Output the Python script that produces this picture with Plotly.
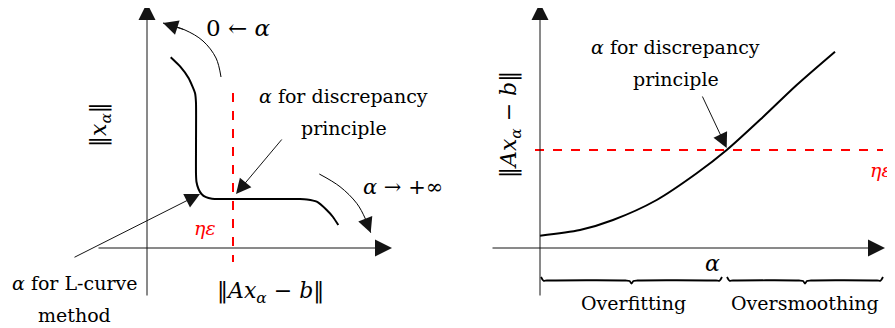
"""Schematic: L-curve vs discrepancy principle for choosing alpha."""

import plotly.graph_objects as go

# left panel: L-curve (x = ||Ax_a - b||, y = ||x_a||), schematic units
lcurve_x = [2.37, 3.33, 4.17, 4.8, 4.9, 4.9, 4.9, 4.95, 5.15, 5.45, 5.9, 6.5, 7.3,
            10.0, 15.3, 16.0, 16.97, 17.97, 18.6, 19.13]
lcurve_y = [19.07, 18.13, 16.97, 15.5, 14.5, 10.0, 7.4, 6.6, 5.9, 5.4, 5.08, 4.93, 4.9,
            4.9, 4.9, 4.85, 4.63, 3.8, 3.1, 2.3]

# arrows showing direction of alpha along the L-curve
to_zero_x = [7.4, 6.9, 5.6, 3.8, 1.6]
to_zero_y = [17.1, 19.0, 20.7, 21.8, 22.5]
to_inf_x = [17.23, 19.3, 20.97, 21.8, 22.37]
to_inf_y = [7.4, 6.13, 4.47, 3.0, 1.53]

# right panel: residual norm vs alpha
resid_alpha = [0.0, 4.0, 7.3, 11.67, 15.67, 18.67, 22.33, 25.67, 29.5]
resid_norm = [1.23, 1.8, 2.8, 4.8, 7.47, 9.8, 13.13, 16.3, 19.63]

eta_eps_left = 8.6      # ||Ax - b|| = eta*eps (left panel)
eta_eps_right = 9.8     # residual level eta*eps (right panel)
alpha_dp = 18.67        # alpha picked by discrepancy principle
alpha_max = 34.3

SERIF = "DejaVu Serif"
RED = "rgb(255, 0, 0)"

fig = go.Figure()

# ---- left panel ----
fig.add_trace(go.Scatter(x=lcurve_x, y=lcurve_y, mode="lines",
                         line=dict(color="black", width=2, shape="spline", smoothing=0.5),
                         xaxis="x", yaxis="y"))
fig.add_trace(go.Scatter(x=[eta_eps_left, eta_eps_left], y=[15.5, -1.4], mode="lines",
                         line=dict(color=RED, width=2, dash="dash"), xaxis="x", yaxis="y"))
for cx, cy in [(to_zero_x, to_zero_y), (to_inf_x, to_inf_y)]:
    fig.add_trace(go.Scatter(x=cx, y=cy, mode="lines",
                             line=dict(color="black", width=1, shape="spline"),
                             xaxis="x", yaxis="y"))

# ---- right panel ----
fig.add_trace(go.Scatter(x=resid_alpha, y=resid_norm, mode="lines",
                         line=dict(color="black", width=2, shape="spline", smoothing=0.8),
                         xaxis="x2", yaxis="y2"))
fig.add_trace(go.Scatter(x=[-0.5, alpha_max], y=[eta_eps_right, eta_eps_right], mode="lines",
                         line=dict(color=RED, width=2, dash="dash"), xaxis="x2", yaxis="y2"))


# curly braces under the alpha axis
def brace(x0, x1, top=-2.9, mid=-3.25, tip=-3.55):
    xm = (x0 + x1) / 2
    xs = [x0, x0 + 0.25, x0 + 0.6, xm - 0.6, xm - 0.2, xm, xm + 0.2, xm + 0.6, x1 - 0.6, x1 - 0.25, x1]
    ys = [top, mid - 0.02, mid, mid, mid - 0.05, tip, mid - 0.05, mid, mid, mid - 0.02, top]
    return xs, ys


for x0, x1 in [(0.1, 18.2), (18.7, 34.3)]:
    bx, by = brace(x0, x1)
    fig.add_trace(go.Scatter(x=bx, y=by, mode="lines",
                             line=dict(color="black", width=1.8, shape="spline", smoothing=0.8),
                             xaxis="x2", yaxis="y2"))

ann = []


def arrow(x, y, ax, ay, xr="x", yr="y", size=2.6, width=1, color="rgb(20,20,20)"):
    ann.append(dict(x=x, y=y, ax=ax, ay=ay, xref=xr, yref=yr, axref=xr, ayref=yr,
                    text="", showarrow=True, arrowhead=2, arrowsize=size,
                    arrowwidth=width, arrowcolor=color, standoff=0))


def label(x, y, text, xr="x", yr="y", size=19, color="black", angle=0, xanchor="center"):
    ann.append(dict(x=x, y=y, xref=xr, yref=yr, text=text, showarrow=False,
                    font=dict(family=SERIF, size=size, color=color),
                    textangle=angle, xanchor=xanchor, yanchor="middle"))


# axes drawn as arrows
arrow(0, 24.5, 0, -4.9, size=3.4)
arrow(24.5, 0, -5.0, 0, size=3.4)
arrow(0, 24.5, 0, -4.9, "x2", "y2", size=3.4)
arrow(34.5, 0, -4.9, 0, "x2", "y2", size=3.4)

# annotation arrows
arrow(8.9, 5.4, 13.6, 11.0, size=3.0)
arrow(5.3, 5.4, -7.4, -1.0, size=3.0)
arrow(to_zero_x[-1], to_zero_y[-1], to_zero_x[-2], to_zero_y[-2], size=3.0)
arrow(to_inf_x[-1], to_inf_y[-1], to_inf_x[-2], to_inf_y[-2], size=3.0)
arrow(alpha_dp, eta_eps_right + 0.2, 16.17, 15.3, "x2", "y2", size=3.0)

# left texts
label(9.1, 22.0, "0 ← <i>α</i>", size=23)
label(19.6, 15.2, "<i>α</i> for discrepancy")
label(19.7, 12.0, "principle")
label(25.6, 6.1, "<i>α</i> → +∞", size=21)
label(5.8, 2.0, "<i>ηε</i>", color=RED, size=19)
label(-7.3, -3.5, "<i>α</i> for L-curve")
label(-7.3, -6.7, "method")
label(12.3, -4.4, "‖<i>Ax</i><sub><i>α</i></sub> − <i>b</i>‖", size=22)
label(-4.7, 12.3, "‖<i>x</i><sub><i>α</i></sub>‖", size=22, angle=-90)

# right texts
label(13.5, 20.1, "<i>α</i> for discrepancy", "x2", "y2")
label(13.6, 16.9, "principle", "x2", "y2")
label(32.8, 7.8, "<i>ηε</i>", "x2", "y2", color=RED, size=19, xanchor="left")
label(17.2, -1.5, "<i>α</i>", "x2", "y2", size=22)
label(9.3, -5.5, "Overfitting", "x2", "y2")
label(26.5, -5.5, "Oversmoothing", "x2", "y2")
label(-3.0, 12.3, "‖<i>Ax</i><sub><i>α</i></sub> − <i>b</i>‖", "x2", "y2", size=22, angle=-90)

# the page body adds an 8px margin, so the figure is 8px smaller and
# the axis ranges start 8px further in
hidden = dict(visible=False, showgrid=False, zeroline=False, fixedrange=True)
split = 442 / 887
fig.update_layout(
    width=887, height=320,
    margin=dict(l=0, r=0, t=0, b=0),
    paper_bgcolor="white", plot_bgcolor="white",
    showlegend=False,
    xaxis=dict(domain=[0, split], range=[-13.9, 30.3], **hidden),
    yaxis=dict(domain=[0, 1], range=[-8.0, 24.0], **hidden),
    xaxis2=dict(domain=[split, 1], range=[-9.0, 35.5], anchor="y2", **hidden),
    yaxis2=dict(domain=[0, 1], range=[-8.0, 24.0], anchor="x2", **hidden),
    annotations=ann,
)

fig.write_html("out.html")
